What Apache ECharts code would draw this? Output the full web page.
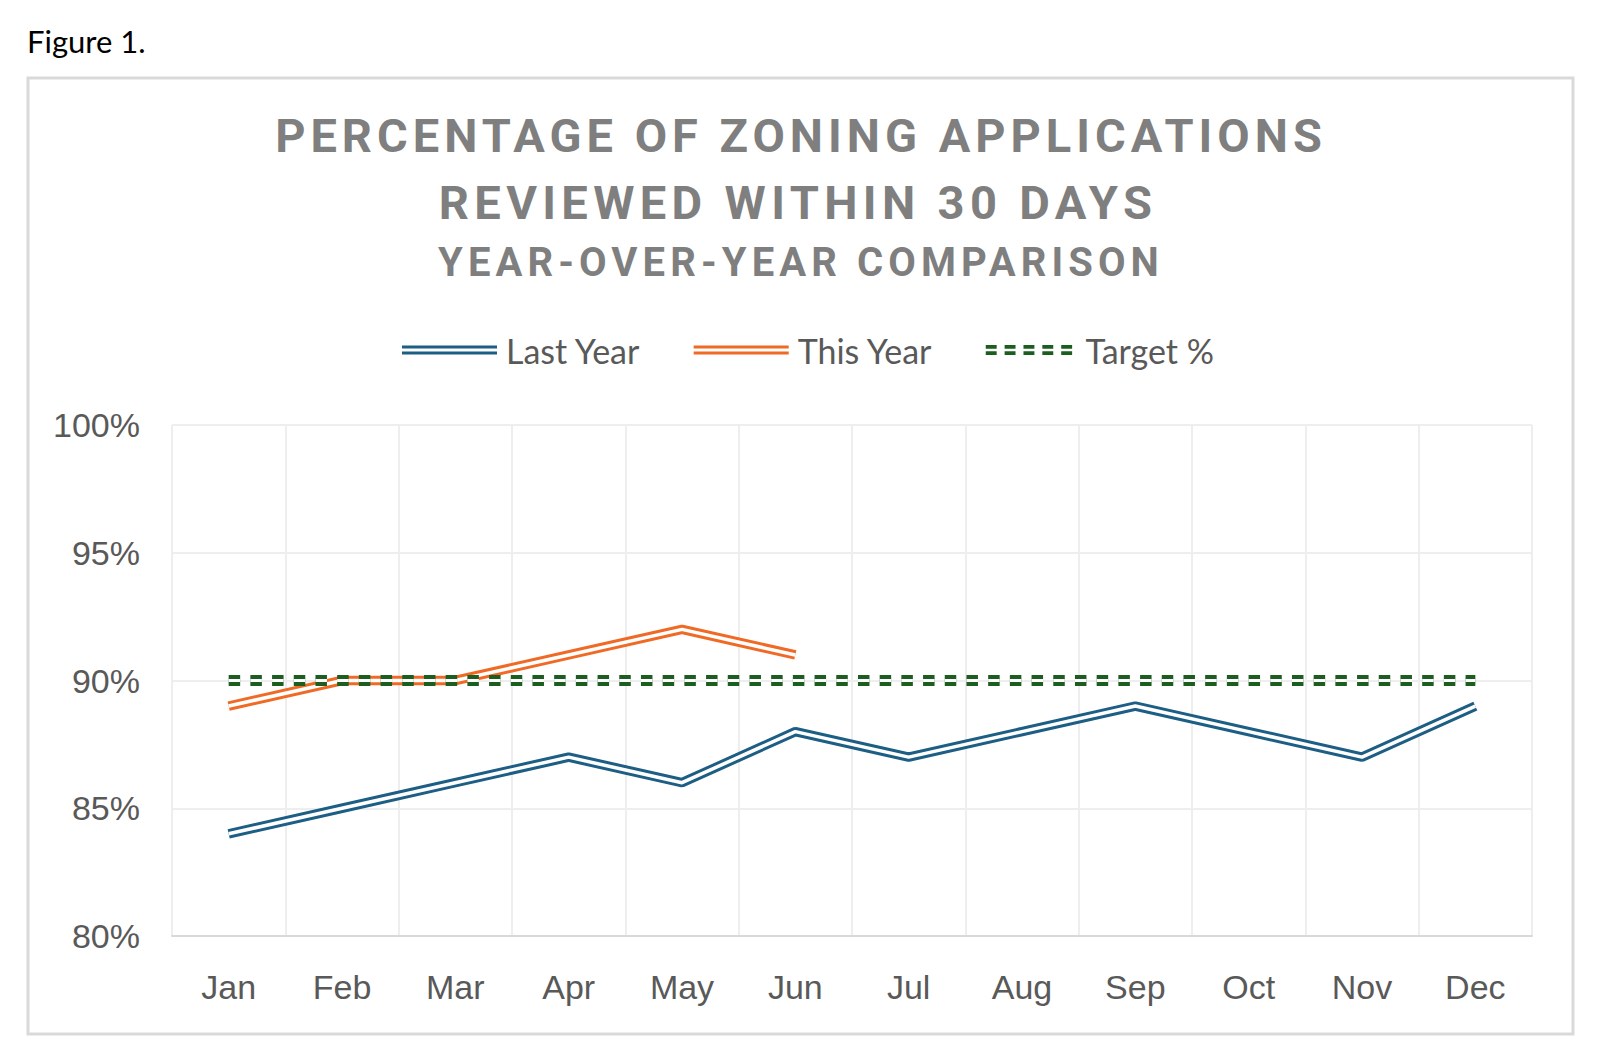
<!DOCTYPE html>
<html><head><meta charset="utf-8">
<script src="https://cdn.jsdelivr.net/npm/echarts@6/dist/echarts.min.js"></script>
<style>
html,body{margin:0;padding:0;background:#fff;}
#chart{width:1600px;height:1062px;}
#chart text[style*="47px"]{letter-spacing:5px;}
#chart text[style*="47.1px"]{letter-spacing:5.35px;}
#chart text[style*="40px"]{letter-spacing:5.1px;}
</style></head><body><div id="chart"></div>
<script>
const months = ['Jan','Feb','Mar','Apr','May','Jun','Jul','Aug','Sep','Oct','Nov','Dec'];
const lastYear = [84, 85, 86, 87, 86, 88, 87, 88, 89, 88, 87, 89];
const thisYear = [89, 90, 90, 91, 92, 91];
const target = [90, 90, 90, 90, 90, 90, 90, 90, 90, 90, 90, 90];
const titleLines = ['PERCENTAGE OF ZONING APPLICATIONS', 'REVIEWED WITHIN 30 DAYS', 'YEAR-OVER-YEAR COMPARISON'];

const BLUE = '#1d5e85', ORANGE = '#f06a25', GREEN = '#1b5e20';
const doubleIcon = 'path://M0,0H95V3H0Z M0,6H95V9H0Z';
let dashIcon = 'path://';
for (let i = 0; i < 5; i++) {
  const x = i * 20.75;
  dashIcon += `M${x},0H${x+12}V4H${x}Z M${x},7H${x+12}V11H${x}Z `;
}

const chart = echarts.init(document.getElementById('chart'), null, {renderer: 'svg'});
chart.setOption({
  animation: false,
  backgroundColor: '#fff',
  graphic: [
    {type: 'rect', shape: {x: 28, y: 78, width: 1545, height: 956}, style: {fill: 'none', stroke: '#d9d9d9', lineWidth: 3}},
    {type: 'text', x: 27, y: 41, style: {text: 'Figure 1.', font: '31px Lato', fill: '#000', align: 'left', verticalAlign: 'middle'}},
    {type: 'text', x: 801, y: 135, style: {text: titleLines[0], font: 'bold 47px Roboto', fill: '#7f7f7f', align: 'center', verticalAlign: 'middle'}},
    {type: 'text', x: 798, y: 202, style: {text: titleLines[1], font: 'bold 47.1px Roboto', fill: '#7f7f7f', align: 'center', verticalAlign: 'middle'}},
    {type: 'text', x: 801, y: 262, style: {text: titleLines[2], font: 'bold 40px Roboto', fill: '#7f7f7f', align: 'center', verticalAlign: 'middle'}}
  ],
  legend: {
    left: 397, top: 328,
    itemWidth: 95, itemHeight: 10, itemGap: 53,
    itemStyle: {borderWidth: 0},
    textStyle: {fontFamily: 'Lato', fontSize: 34, color: '#595959', lineHeight: 34, padding: [0, 0, 0, 4]},
    data: [
      {name: 'Last Year', icon: doubleIcon},
      {name: 'This Year', icon: doubleIcon},
      {name: 'Target %', icon: dashIcon}
    ]
  },
  grid: {left: 172, right: 68, top: 425, bottom: 126, containLabel: false},
  xAxis: {
    type: 'category', data: months, boundaryGap: true,
    axisLine: {show: true, lineStyle: {color: '#d9d9d9', width: 2}},
    axisTick: {show: false},
    splitLine: {show: true, lineStyle: {color: '#eeeeee', width: 2}},
    axisLabel: {fontFamily: 'Liberation Sans', fontSize: 34, color: '#595959', margin: 34}
  },
  yAxis: {
    type: 'value', min: 80, max: 100, interval: 5,
    axisLine: {show: false}, axisTick: {show: false},
    splitLine: {show: true, lineStyle: {color: '#eeeeee', width: 2}},
    axisLabel: {formatter: '{value}%', fontFamily: 'Liberation Sans', fontSize: 34, color: '#595959', margin: 32}
  },
  series: [
    {name: 'Last Year', type: 'line', data: lastYear, showSymbol: false, symbol: 'none', color: BLUE, lineStyle: {color: BLUE, width: 9.5}},
    {name: 'Last Year inner', type: 'line', data: lastYear, showSymbol: false, symbol: 'none', silent: true, lineStyle: {color: '#fff', width: 3.5}},
    {name: 'This Year', type: 'line', data: thisYear, showSymbol: false, symbol: 'none', color: ORANGE, lineStyle: {color: ORANGE, width: 9.5}},
    {name: 'This Year inner', type: 'line', data: thisYear, showSymbol: false, symbol: 'none', silent: true, lineStyle: {color: '#fff', width: 3.5}},
    {name: 'Target %', type: 'line', data: target, showSymbol: false, symbol: 'none', color: GREEN, lineStyle: {color: GREEN, width: 11, type: [11.5, 10.2]}},
    {name: 'Target inner', type: 'line', data: target, showSymbol: false, symbol: 'none', silent: true, lineStyle: {color: '#fff', width: 3, type: [11.5, 10.2]}}
  ]
});
</script></body></html>
